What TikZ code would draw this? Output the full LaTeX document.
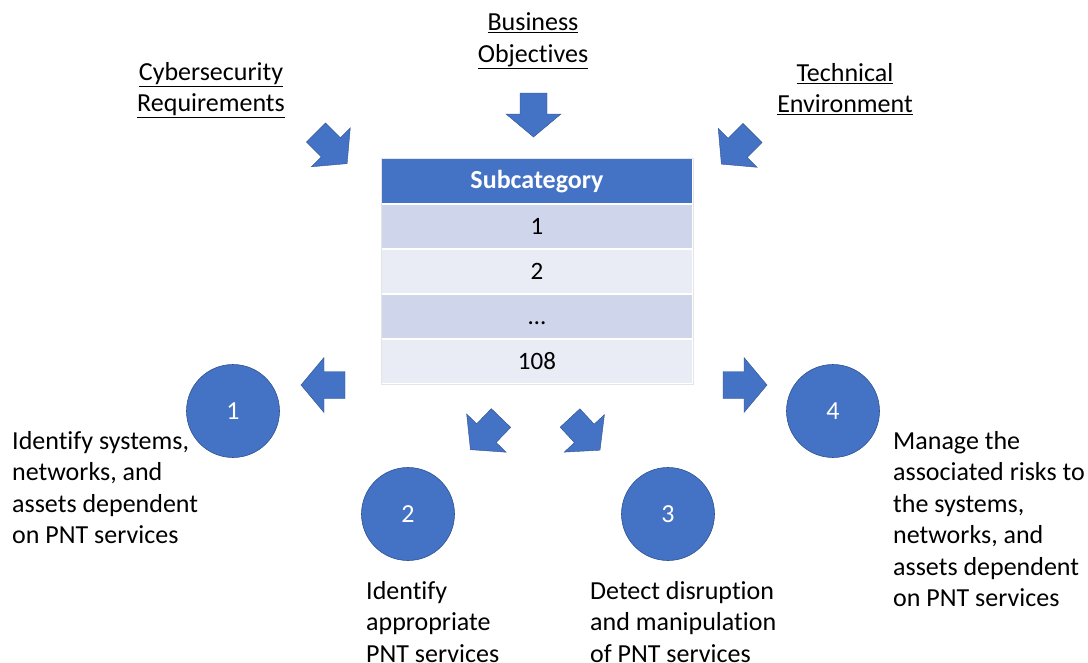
\documentclass[tikz,border=0pt]{standalone}
\usepackage{fontspec}
\setmainfont{Carlito}[Ligatures=NoCommon]
\usetikzlibrary{positioning}
\definecolor{boxblue}{HTML}{4472C4}
\definecolor{edgeblue}{HTML}{2F528F}
\definecolor{rowdark}{HTML}{CFD5EA}
\definecolor{rowlight}{HTML}{E9EBF5}
\begin{document}
\begin{tikzpicture}[x=1pt,y=-1pt,
    labelstyle/.style={align=center,font=\fontsize{26}{31.5}\selectfont,inner sep=0pt},
    notestyle/.style={align=left,anchor=north west,font=\fontsize{26}{31.5}\selectfont,inner sep=0pt},
    cellstyle/.style={rectangle,draw=white,line width=2pt,outer sep=0pt,minimum width=312pt,
        minimum height=45pt,font=\fontsize{25}{30}\selectfont,inner sep=0pt,text height=18pt,text depth=3pt},
    stepcircle/.style={circle,draw=edgeblue,line width=0.6pt,fill=boxblue,minimum size=93pt,
        inner sep=0pt,text=white,font=\fontsize{26}{30}\selectfont},
    blockarrow/.pic={\fill[boxblue,draw=edgeblue,line width=0.4pt] (0,-13.5) -- (21,-13.5) -- (21,-27.5)
        -- (44,0) -- (21,27.5) -- (21,13.5) -- (0,13.5) -- cycle;}]
    \useasboundingbox (0,0) rectangle (1088,662);
    \node[labelstyle] (business) at (533,41) {\underline{Business}\\\underline{Objectives}};
    \node[labelstyle] (cyber) at (211,90) {\underline{Cybersecurity}\\\underline{Requirements}};
    \node[labelstyle] (technical) at (845,89) {\underline{Technical}\\\underline{Environment}};
    \node[cellstyle,fill=boxblue,text=white,minimum height=46pt,font=\fontsize{26}{30}\selectfont\bfseries]
        (head) at (537,181) {Subcategory};
    \node[cellstyle,fill=rowdark,below=0pt of head] (row1) {1};
    \node[cellstyle,fill=rowlight,below=0pt of row1] (row2) {2};
    \node[cellstyle,fill=rowdark,below=0pt of row2] (row3) {\dots};
    \node[cellstyle,fill=rowlight,below=0pt of row3] (row4) {108};
    \draw[gray!20,line width=0.5pt] (head.north west) rectangle (row4.south east);
    \foreach \n/\x/\y in {1/233/411,2/408/514,3/668/514,4/833/411}
        \node[stepcircle] (c\n) at (\x,\y) {\n};
    \foreach \x/\y/\a in {533.5/93/-90,316/132.5/-45,752.5/133/-135,345/385/180,723/385/0,501/418/-134,570/418/-47}
        \pic[rotate=\a] at (\x,\y) {blockarrow};
    \node[notestyle] (note1) at (12,431) {Identify systems,\\networks, and\\assets dependent\\on PNT services};
    \node[notestyle] (note2) at (366,581) {Identify\\appropriate\\PNT services};
    \node[notestyle] (note3) at (590,581) {Detect disruption\\and manipulation\\of PNT services};
    \node[notestyle] (note4) at (893,431) {Manage the\\associated risks to\\the systems,\\networks, and\\assets dependent\\on PNT services};
\end{tikzpicture}
\end{document}
